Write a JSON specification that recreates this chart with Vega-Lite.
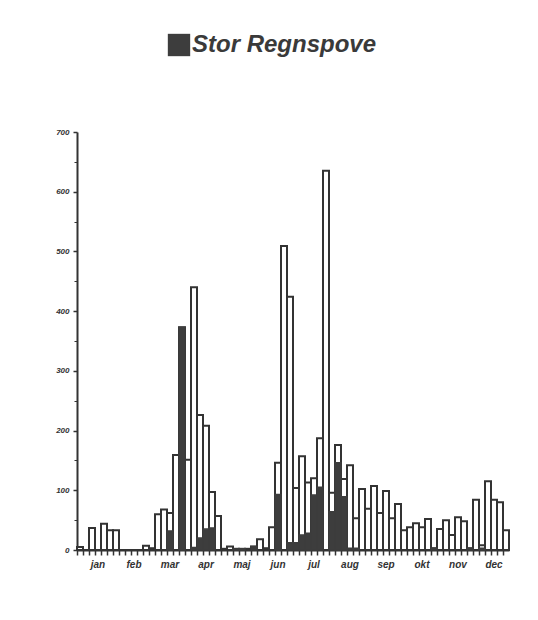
{
  "$schema": "https://vega.github.io/schema/vega-lite/v6.json",
  "width": 432,
  "height": 418,
  "autosize": {"type": "none"},
  "padding": {"left": 77, "top": 132, "right": 29, "bottom": 70},
  "background": "white",
  "config": {"view": {"stroke": null}, "font": "Liberation Sans"},
  "data": {"values": [
    {"p": 0, "total": 5, "dark": 0}, {"p": 1, "total": 0, "dark": 0}, {"p": 2, "total": 37, "dark": 0}, {"p": 3, "total": 0, "dark": 0},
    {"p": 4, "total": 44, "dark": 0}, {"p": 5, "total": 33, "dark": 0}, {"p": 6, "total": 33, "dark": 0}, {"p": 7, "total": 0, "dark": 0},
    {"p": 8, "total": 0, "dark": 0}, {"p": 9, "total": 0, "dark": 0}, {"p": 10, "total": 0, "dark": 0}, {"p": 11, "total": 7, "dark": 0},
    {"p": 12, "total": 3, "dark": 0}, {"p": 13, "total": 60, "dark": 0}, {"p": 14, "total": 68, "dark": 0}, {"p": 15, "total": 62, "dark": 32},
    {"p": 16, "total": 159, "dark": 0}, {"p": 17, "total": 373, "dark": 373}, {"p": 18, "total": 151, "dark": 0}, {"p": 19, "total": 440, "dark": 4},
    {"p": 20, "total": 226, "dark": 20}, {"p": 21, "total": 208, "dark": 35}, {"p": 22, "total": 97, "dark": 37}, {"p": 23, "total": 57, "dark": 0},
    {"p": 24, "total": 2, "dark": 0}, {"p": 25, "total": 6, "dark": 0}, {"p": 26, "total": 2, "dark": 2}, {"p": 27, "total": 2, "dark": 2},
    {"p": 28, "total": 2, "dark": 0}, {"p": 29, "total": 6, "dark": 6}, {"p": 30, "total": 18, "dark": 0}, {"p": 31, "total": 3, "dark": 0},
    {"p": 32, "total": 38, "dark": 0}, {"p": 33, "total": 146, "dark": 93}, {"p": 34, "total": 509, "dark": 0}, {"p": 35, "total": 424, "dark": 12},
    {"p": 36, "total": 104, "dark": 12}, {"p": 37, "total": 157, "dark": 25}, {"p": 38, "total": 113, "dark": 28}, {"p": 39, "total": 120, "dark": 92},
    {"p": 40, "total": 187, "dark": 105}, {"p": 41, "total": 635, "dark": 0}, {"p": 42, "total": 96, "dark": 64}, {"p": 43, "total": 176, "dark": 146},
    {"p": 44, "total": 119, "dark": 89}, {"p": 45, "total": 142, "dark": 3}, {"p": 46, "total": 53, "dark": 3}, {"p": 47, "total": 102, "dark": 0},
    {"p": 48, "total": 69, "dark": 0}, {"p": 49, "total": 107, "dark": 0}, {"p": 50, "total": 62, "dark": 0}, {"p": 51, "total": 99, "dark": 0},
    {"p": 52, "total": 53, "dark": 0}, {"p": 53, "total": 77, "dark": 0}, {"p": 54, "total": 33, "dark": 0}, {"p": 55, "total": 38, "dark": 0},
    {"p": 56, "total": 45, "dark": 0}, {"p": 57, "total": 38, "dark": 0}, {"p": 58, "total": 52, "dark": 0}, {"p": 59, "total": 3, "dark": 3},
    {"p": 60, "total": 35, "dark": 0}, {"p": 61, "total": 50, "dark": 0}, {"p": 62, "total": 25, "dark": 0}, {"p": 63, "total": 55, "dark": 0},
    {"p": 64, "total": 48, "dark": 0}, {"p": 65, "total": 3, "dark": 3}, {"p": 66, "total": 84, "dark": 0}, {"p": 67, "total": 8, "dark": 3},
    {"p": 68, "total": 115, "dark": 0}, {"p": 69, "total": 84, "dark": 0}, {"p": 70, "total": 80, "dark": 0}, {"p": 71, "total": 33, "dark": 0}
  ]},
  "encoding": {
    "x": {
      "field": "p", "type": "ordinal",
      "scale": {"paddingInner": 0, "paddingOuter": 0},
      "axis": {
        "title": null, "bandPosition": 0, "labelAngle": 0,
        "labelExpr": "datum.value % 6 == 3 ? ['jan','feb','mar','apr','maj','jun','jul','aug','sep','okt','nov','dec'][floor(datum.value / 6)] : ''",
        "labelOverlap": false, "labelFontSize": 10, "labelFontWeight": "bold", "labelFontStyle": "italic",
        "labelColor": "#333", "labelPadding": 4,
        "domainColor": "#333", "domainWidth": 2, "tickColor": "#333", "tickWidth": 1.5, "tickSize": 5
      }
    }
  },
  "layer": [
    {
      "mark": {"type": "bar", "fill": "white", "stroke": "#333", "strokeWidth": 2},
      "encoding": {
        "y": {
          "field": "total", "type": "quantitative",
          "scale": {"domain": [0, 700], "nice": false},
          "axis": {
            "title": null, "values": [0, 100, 200, 300, 400, 500, 600, 700], "grid": false,
            "labelFontSize": 8, "labelFontWeight": "bold", "labelFontStyle": "italic", "labelColor": "#333",
            "labelPadding": 4, "domainColor": "#333", "domainWidth": 2, "tickColor": "#333", "tickWidth": 1.5, "tickSize": 4
          }
        }
      }
    },
    {
      "transform": [{"filter": "datum.dark > 0"}],
      "mark": {"type": "bar", "stroke": "#3d3d3d", "strokeWidth": 1.5},
      "encoding": {
        "y": {"field": "dark", "type": "quantitative", "axis": null},
        "color": {
          "datum": "Stor Regnspove",
          "scale": {"range": ["#3d3d3d"]},
          "legend": {
            "title": null, "orient": "none", "legendX": 90, "legendY": -99,
            "symbolType": "square", "symbolSize": 500, "symbolStrokeWidth": 0,
            "labelFontSize": 24, "labelFontWeight": "bold", "labelFontStyle": "italic", "labelFont": "Liberation Sans",
            "labelColor": "#3a3a3a", "labelOffset": 1, "labelLimit": 400
          }
        }
      }
    },
    {
      "mark": {"type": "bar", "opacity": 0},
      "encoding": {
        "y": {
          "field": "total", "type": "quantitative",
          "axis": {
            "orient": "left", "title": null, "values": [50, 150, 250, 350, 450, 550, 650], "labels": false,
            "domain": false, "grid": false, "tickColor": "#333", "tickWidth": 1, "tickSize": 3
          }
        }
      }
    }
  ],
  "resolve": {"axis": {"y": "independent"}}
}
